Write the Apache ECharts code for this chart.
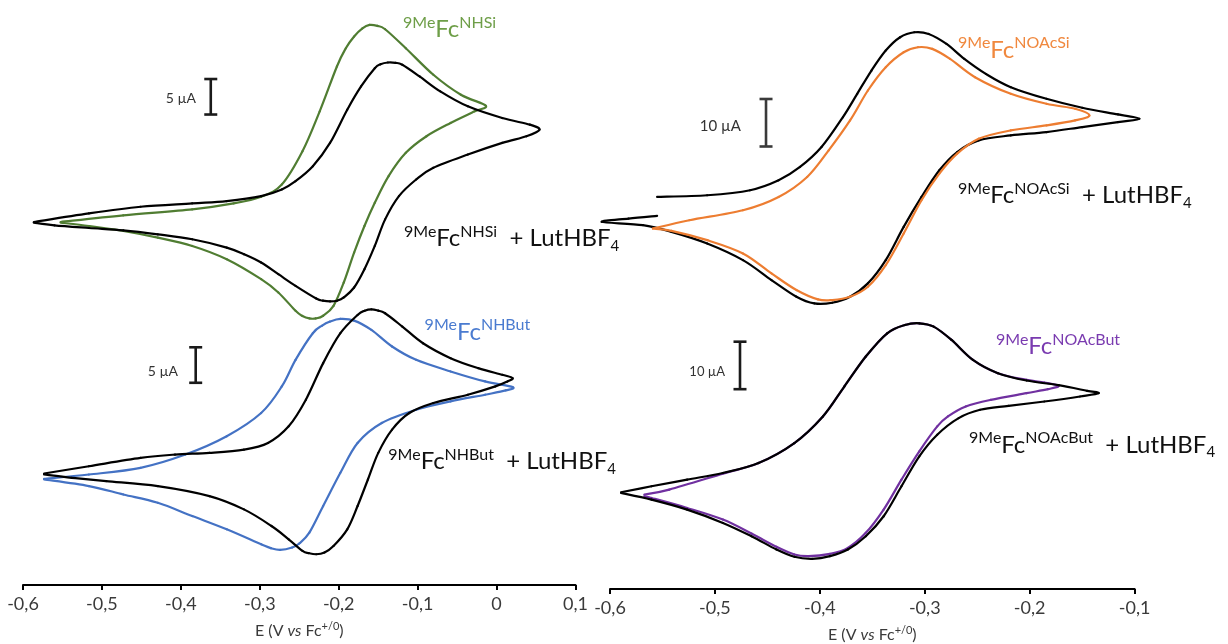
<!DOCTYPE html>
<html><head><meta charset="utf-8">
<script src="https://cdn.jsdelivr.net/npm/echarts@6/dist/echarts.min.js"></script>
<style>html,body{margin:0;padding:0;background:#fff}#c{width:1228px;height:644px}</style>
</head><body><div id="c"></div>
<script>
// ---- Data: potential E (V vs Fc+/0) and current I (µA, relative baseline) ----
// Top-left panel
const nhsiLutE = [-0.5863,-0.5165,-0.4511,-0.3856,-0.3419,-0.2983,-0.2721,-0.2547,-0.2328,-0.2110,-0.1892,-0.1717,-0.1543,-0.1470,-0.1377,-0.1280,-0.1194,-0.0975,-0.0713,-0.0364,0.0072,0.0421,0.0544,
  0.0378,0.0072,-0.0364,-0.0801,-0.1019,-0.1237,-0.1412,-0.1543,-0.1674,-0.1805,-0.1936,-0.2020,-0.2110,-0.2200,-0.2285,-0.2547,-0.2765,-0.2983,-0.3201,-0.3419,-0.3856,-0.4292,-0.4729,-0.5165,-0.5602,-0.5863];
const nhsiLutI = [-1.27,-0.05,0.88,1.35,1.68,2.38,3.32,4.49,6.59,9.87,14.55,17.83,20.40,20.95,21.20,21.15,20.87,19.23,17.13,15.02,13.38,12.45,11.74,
  10.81,9.87,8.23,6.36,4.72,2.38,-0.90,-4.64,-7.92,-10.49,-11.90,-12.35,-12.46,-12.35,-12.04,-10.26,-8.62,-6.98,-5.81,-4.87,-3.70,-3.00,-2.44,-2.11,-1.74,-1.36];
const nhsiE = [-0.5523,-0.4729,-0.3856,-0.3332,-0.2983,-0.2721,-0.2459,-0.2241,-0.2023,-0.1910,-0.1805,-0.1700,-0.1608,-0.1510,-0.1412,-0.1150,-0.0801,-0.0452,-0.0137,
  -0.0277,-0.0583,-0.0888,-0.1150,-0.1368,-0.1543,-0.1674,-0.1805,-0.1936,-0.2066,-0.2197,-0.2290,-0.2372,-0.2460,-0.2547,-0.2765,-0.2983,-0.3419,-0.3856,-0.4292,-0.4729,-0.5165,-0.5523];
const nhsiI = [-1.27,-0.33,0.51,1.35,2.29,4.02,8.70,14.32,20.64,23.20,24.85,26.00,26.49,26.35,25.88,23.21,19.47,16.66,15.11,
  14.32,12.68,10.81,8.47,5.19,1.44,-1.83,-5.58,-9.79,-13.07,-14.47,-14.85,-14.85,-14.50,-13.77,-11.19,-9.32,-6.51,-4.64,-3.47,-2.53,-1.83,-1.36];
// Bottom-left panel
const nhbutLutE = [-0.5733,-0.5165,-0.4511,-0.4074,-0.3638,-0.3201,-0.2896,-0.2634,-0.2416,-0.2197,-0.1979,-0.1761,-0.1670,-0.1586,-0.1500,-0.1412,-0.1194,-0.0932,-0.0583,-0.0233,0.0072,0.0203,
  0.0138,-0.0015,-0.0364,-0.0801,-0.1106,-0.1324,-0.1499,-0.1630,-0.1761,-0.1892,-0.2066,-0.2180,-0.2285,-0.2380,-0.2459,-0.2634,-0.2852,-0.3201,-0.3638,-0.4292,-0.4947,-0.5383,-0.5733];
const nhbutLutI = [0.56,1.59,2.76,3.23,3.47,3.93,4.87,7.21,10.96,16.11,20.32,22.89,23.50,23.69,23.50,23.13,21.26,18.91,16.81,15.40,14.47,14.00,
  13.53,12.83,11.66,10.49,9.08,6.74,3.47,-0.28,-4.02,-7.30,-9.64,-10.55,-10.81,-10.65,-10.34,-8.70,-6.83,-4.49,-2.62,-1.21,-0.51,-0.04,0.42];
const nhbutE = [-0.5733,-0.5165,-0.4511,-0.3943,-0.3419,-0.2983,-0.2721,-0.2547,-0.2328,-0.2210,-0.2110,-0.1979,-0.1805,-0.1586,-0.1324,-0.1019,-0.0583,-0.0146,0.0203,
  0.0116,-0.0146,-0.0583,-0.1019,-0.1455,-0.1761,-0.1979,-0.2197,-0.2372,-0.2500,-0.2590,-0.2743,-0.2860,-0.2983,-0.3419,-0.3856,-0.4292,-0.4729,-0.5165,-0.5733];
const nhbutI = [-0.19,0.42,1.36,3.23,5.81,9.08,12.83,16.57,20.32,21.40,21.96,22.33,22.10,20.79,18.45,16.57,14.94,13.53,12.74,
  12.27,11.66,10.72,9.55,7.68,4.87,0.66,-4.02,-7.77,-9.30,-9.87,-10.20,-9.95,-9.41,-7.30,-5.43,-3.56,-2.39,-1.21,-0.28];
// Top-right panel
const noacsiLutE = [-0.5551,-0.5074,-0.4665,-0.4393,-0.4189,-0.3984,-0.3780,-0.3644,-0.3508,-0.3372,-0.3235,-0.3099,-0.2963,-0.2793,-0.2623,-0.2418,-0.2180,-0.1840,-0.1499,-0.1159,-0.0954,
  -0.1159,-0.1499,-0.1840,-0.2180,-0.2486,-0.2691,-0.2861,-0.3031,-0.3201,-0.3372,-0.3542,-0.3712,-0.3882,-0.4053,-0.4223,-0.4461,-0.4733,-0.5074,-0.5414,-0.5687,-0.6078,-0.5823,-0.5551];
const noacsiLutI = [8.96,9.31,10.36,12.46,15.27,19.47,25.77,30.67,35.57,39.78,42.58,43.63,43.28,41.18,38.03,34.87,32.07,29.62,27.73,26.33,25.42,
  24.72,23.67,22.62,21.92,20.87,18.42,14.57,8.96,2.66,-4.34,-9.24,-12.05,-13.31,-13.45,-12.05,-8.54,-4.34,-0.84,1.61,3.01,3.71,4.41,4.97];
const noacsiE = [-0.5591,-0.5244,-0.4733,-0.4393,-0.4121,-0.3916,-0.3712,-0.3542,-0.3372,-0.3201,-0.3065,-0.2929,-0.2759,-0.2521,-0.2180,-0.1840,-0.1567,-0.1431,
  -0.1567,-0.1840,-0.2180,-0.2486,-0.2691,-0.2861,-0.3031,-0.3201,-0.3372,-0.3542,-0.3712,-0.3882,-0.4018,-0.4223,-0.4461,-0.4733,-0.5074,-0.5414,-0.5591];
const noacsiI = [2.31,4.06,6.16,8.96,13.17,18.77,25.07,31.37,36.27,39.43,40.48,40.13,38.03,34.17,30.67,28.57,27.52,26.12,
  25.07,24.02,22.97,21.22,18.07,13.87,8.26,1.26,-5.39,-9.94,-12.05,-12.75,-12.61,-10.64,-7.14,-2.94,-0.14,1.82,2.31];
// Bottom-right panel
const noacbutLutE = [-0.5895,-0.5605,-0.5265,-0.4924,-0.4584,-0.4243,-0.3971,-0.3767,-0.3562,-0.3358,-0.3188,-0.3052,-0.2915,-0.2745,-0.2541,-0.2303,-0.2030,-0.1724,-0.1452,-0.1343,
  -0.1520,-0.1860,-0.2201,-0.2473,-0.2677,-0.2881,-0.3052,-0.3222,-0.3392,-0.3562,-0.3733,-0.3903,-0.4073,-0.4243,-0.4414,-0.4652,-0.4924,-0.5265,-0.5605,-0.5895];
const noacbutLutI = [1.63,2.89,4.29,5.69,7.79,11.99,17.59,23.89,30.20,35.10,36.85,37.20,36.50,33.70,29.50,26.70,25.15,24.17,22.98,22.49,
  21.79,20.74,19.83,18.99,17.24,13.74,9.19,2.89,-3.42,-7.62,-10.42,-11.82,-12.38,-11.96,-10.42,-7.62,-4.82,-2.02,0.08,1.49];
const noacbutE = [-0.5673,-0.5435,-0.4924,-0.4584,-0.4243,-0.3971,-0.3767,-0.3562,-0.3358,-0.3188,-0.3052,-0.2915,-0.2745,-0.2541,-0.2303,-0.2030,-0.1860,-0.1724,
  -0.1826,-0.2030,-0.2371,-0.2609,-0.2779,-0.2881,-0.3052,-0.3222,-0.3392,-0.3562,-0.3733,-0.3903,-0.4107,-0.4243,-0.4414,-0.4652,-0.4924,-0.5265,-0.5605,-0.5673];
const noacbutI = [1.13,2.19,5.55,7.79,11.99,17.59,23.89,30.20,35.10,36.85,37.20,36.50,33.70,29.50,26.70,25.29,24.73,24.03,
  23.33,22.49,21.09,19.69,17.59,15.49,10.24,4.29,-2.02,-6.92,-10.07,-11.33,-11.82,-11.47,-9.86,-7.06,-4.12,-1.67,0.43,0.78];
// Scale bars (one per panel: TL, BL, TR, BR)
const scaleBarE = [-0.3621, -0.3812, -0.4513, -0.4761];
const scaleBarTop = [18.87, 18.34, 29.58, 33.33];
const scaleBarSize = [5, 5, 10, 10];
const scaleBarText = ['5 µA', '5 µA', '10 µA', '10 µA'];
// Axis ranges (tick labels every 0.1 V)
const leftTicks = [-0.6, 0.1];
const rightTicks = [-0.6, -0.1];

// ---- Layout ----
const F = 'Lato, "Open Sans", sans-serif';
const KL = 7.1, KR = 4.75; // px per µA
const grids = [
  {left: 23, width: 552.5, top: 0, height: 326.6, yMax: 30, k: KL},
  {left: 23, width: 552.5, top: 300, height: 285, yMax: 25, k: KL},
  {left: 610, width: 524.6, top: 2, height: 308.75, yMax: 50, k: KR},
  {left: 610, width: 524.6, top: 310, height: 279, yMax: 40, k: KR}
];
const fmt = v => String(Math.round(v * 10) / 10).replace('.', ',');
function xAx(g, ticks, show) {
  const a = {gridIndex: g, type: 'value', min: ticks[0], max: ticks[1], interval: 0.1, splitLine: {show: false}};
  if (!show) { a.show = false; return a; }
  return Object.assign(a, {
    axisLine: {show: true, onZero: false, lineStyle: {color: '#000', width: 2}},
    axisTick: {show: true, length: 5, lineStyle: {color: '#000', width: 2}},
    axisLabel: {formatter: fmt, margin: 10, fontSize: 18, color: '#3a3a3a', fontFamily: F},
    name: '{n|E (V }{i|vs}{n| Fc}{p|+/0}{n|)}', nameLocation: 'middle', nameGap: 36,
    nameTextStyle: {rich: {
      n: {fontSize: 16, fontFamily: F, color: '#3a3a3a', lineHeight: 20},
      i: {fontSize: 16, fontFamily: F, color: '#3a3a3a', fontStyle: 'italic', lineHeight: 20},
      p: {fontSize: 11, fontFamily: F, color: '#3a3a3a', verticalAlign: 'top', lineHeight: 13}
    }}
  });
}
// Each voltammogram: a custom series whose items are the measured [E, I] points;
// every item draws the smooth segment to the next point through the axes' coordinate mapping.
function cv(E, I, color, g, z) {
  const data = E.map((e, k) => [e, I[k]]);
  const n = data.length;
  return {type: 'custom', xAxisIndex: g, yAxisIndex: g, clip: false, silent: true, z: z,
    encode: {x: 0, y: 1}, data: data,
    renderItem: (params, api) => {
      const i = params.dataIndex;
      if (i >= n - 1) return {type: 'group', children: []};
      const P = k => api.coord(data[Math.max(0, Math.min(n - 1, k))]);
      const p0 = P(i - 1), p1 = P(i), p2 = P(i + 1), p3 = P(i + 2);
      const t = 1 / 6;
      return {type: 'bezierCurve', shape: {
          x1: p1[0], y1: p1[1], x2: p2[0], y2: p2[1],
          cpx1: p1[0] + (p2[0] - p0[0]) * t, cpy1: p1[1] + (p2[1] - p0[1]) * t,
          cpx2: p2[0] - (p3[0] - p1[0]) * t, cpy2: p2[1] - (p3[1] - p1[1]) * t},
        style: {stroke: color, lineWidth: 2.2, fill: null, lineCap: 'round'}};
    }};
}
function bar(g, color) {
  return {type: 'custom', xAxisIndex: g, yAxisIndex: g, clip: false, silent: true, z: 5,
    encode: {x: 0, y: 1},
    data: [[scaleBarE[g], scaleBarTop[g], scaleBarSize[g]]],
    renderItem: (params, api) => {
      const p1 = api.coord([api.value(0), api.value(1)]);
      const p2 = api.coord([api.value(0), api.value(1) - api.value(2)]);
      const w = 6.5, st = {stroke: color, lineWidth: 2.6};
      return {type: 'group', children: [
        {type: 'line', shape: {x1: p1[0], y1: p1[1], x2: p2[0], y2: p2[1]}, style: st},
        {type: 'line', shape: {x1: p1[0] - w, y1: p1[1], x2: p1[0] + w, y2: p1[1]}, style: st},
        {type: 'line', shape: {x1: p2[0] - w, y1: p2[1], x2: p2[0] + w, y2: p2[1]}, style: st}
      ]};
    }};
}
function lbl(x, y, sup, color, lut) {
  const rich = {
    s: {fontSize: 16, lineHeight: 18, verticalAlign: 'top', fontFamily: F, fill: color},
    b: {fontSize: 24, lineHeight: 30, fontFamily: F, fill: color},
    d: {fontSize: 15, lineHeight: 12, verticalAlign: 'bottom', fontFamily: F, fill: color}
  };
  let text = '{s|9Me}{b|Fc}{s|' + sup + '}';
  if (lut) text += '{b|  + LutHBF}{d|4}';
  return {type: 'text', x: x, y: y, silent: true, z: 10,
    style: {text: text, rich: rich, fill: color, align: 'left', verticalAlign: 'top', fontFamily: F}};
}
function sbText(x, y, i, size, color) {
  return {type: 'text', x: x, y: y, silent: true,
    style: {text: scaleBarText[i], fill: color, fontSize: size, fontFamily: F, align: 'right', verticalAlign: 'middle'}};
}

const chart = echarts.init(document.getElementById('c'), null, {renderer: 'canvas'});
chart.setOption({
  animation: false,
  backgroundColor: '#fff',
  grid: grids.map(g => ({left: g.left, width: g.width, top: g.top, height: g.height, containLabel: false})),
  xAxis: [xAx(0, leftTicks, false), xAx(1, leftTicks, true), xAx(2, rightTicks, false), xAx(3, rightTicks, true)],
  yAxis: grids.map((g, i) => ({gridIndex: i, type: 'value', show: false, max: g.yMax, min: g.yMax - g.height / g.k, splitLine: {show: false}})),
  series: [
    cv(nhsiE, nhsiI, '#507D32', 0, 2),
    cv(nhsiLutE, nhsiLutI, '#000', 0, 3),
    cv(nhbutE, nhbutI, '#4472C4', 1, 2),
    cv(nhbutLutE, nhbutLutI, '#000', 1, 3),
    cv(noacsiE, noacsiI, '#ED7D31', 2, 3),
    cv(noacsiLutE, noacsiLutI, '#000', 2, 2),
    cv(noacbutE, noacbutI, '#7030A0', 3, 2),
    cv(noacbutLutE, noacbutLutI, '#000', 3, 3),
    bar(0, '#1a1a1a'), bar(1, '#1a1a1a'), bar(2, '#3a3a3a'), bar(3, '#1a1a1a')
  ],
  graphic: [
    lbl(403, 14.5, 'NHSi', '#6E9E48', false),
    lbl(404, 223.5, 'NHSi', '#111', true),
    lbl(424.6, 317, 'NHBut', '#4A7BD0', false),
    lbl(388.3, 446.5, 'NHBut', '#111', true),
    lbl(958, 35, 'NOAcSi', '#F0883E', false),
    lbl(958, 180.5, 'NOAcSi', '#111', true),
    lbl(996, 331.5, 'NOAcBut', '#7A3BB0', false),
    lbl(969, 430, 'NOAcBut', '#111', true),
    sbText(196, 98, 0, 14, '#333'),
    sbText(178, 371, 1, 14, '#333'),
    sbText(741, 126, 2, 15, '#333'),
    sbText(725, 372, 3, 13, '#333')
  ]
});
</script></body></html>
